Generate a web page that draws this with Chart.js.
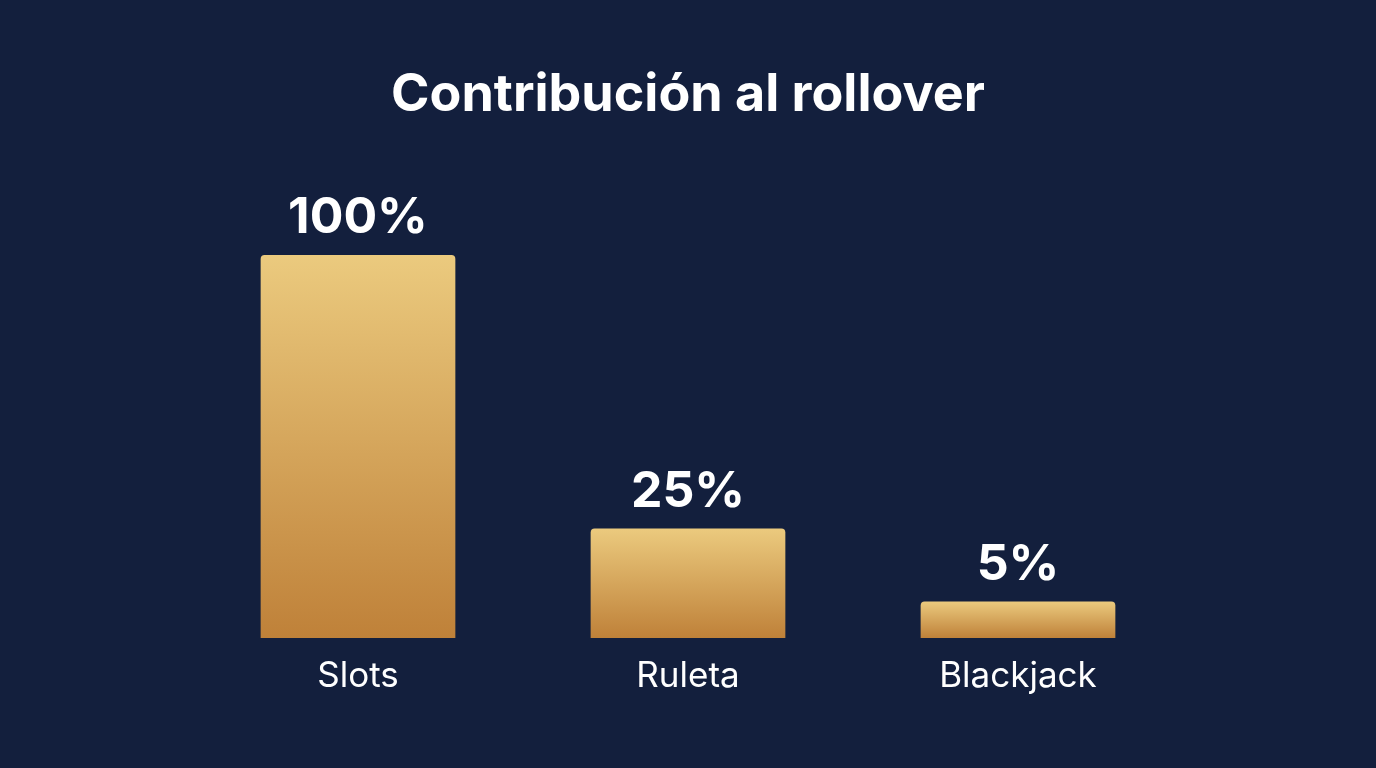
<!DOCTYPE html>
<html><head><meta charset="utf-8">
<script src="https://cdn.jsdelivr.net/npm/chart.js@4"></script>
<style>html,body{margin:0;background:#131f3d;}#wrap{width:1376px;height:768px;}</style>
</head><body><div id="wrap"><canvas id="c"></canvas></div>
<script>
const categories = ['Slots', 'Ruleta', 'Blackjack'];
const values = [100, 25, 5];
const valueLabels = ['100%', '25%', '5%'];
const title = 'Contribución al rollover';

const labelsPlugin = {
  id: 'labels',
  afterDatasetsDraw(chart) {
    const ctx = chart.ctx;
    const meta = chart.getDatasetMeta(0);
    ctx.save();
    ctx.fillStyle = '#ffffff';
    ctx.textAlign = 'center';
    ctx.textBaseline = 'middle';
    ctx.font = 'bold 52px Inter, "Open Sans", sans-serif';
    ctx.fillText(title, 688, 95);
    meta.data.forEach((bar, i) => {
      ctx.font = 'bold 50px Inter, "Open Sans", sans-serif';
      ctx.fillText(valueLabels[i], bar.x, bar.y - 37);
      ctx.font = '35px Inter, "Open Sans", sans-serif';
      ctx.fillText(categories[i], bar.x, chart.chartArea.bottom + 38);
    });
    ctx.restore();
  }
};

new Chart(document.getElementById('c'), {
  type: 'bar',
  data: {
    labels: categories,
    datasets: [{
      data: values,
      base: -5,
      backgroundColor: (c) => {
        const a = c.chart.chartArea;
        if (!a) return '#d9a85a';
        const top = c.chart.scales.y.getPixelForValue(values[c.dataIndex]);
        const g = c.chart.ctx.createLinearGradient(0, top, 0, a.bottom);
        g.addColorStop(0, '#ebca7e');
        g.addColorStop(1, '#bf8139');
        return g;
      },
      borderRadius: { topLeft: 4, topRight: 4 },
      borderSkipped: 'bottom',
      categoryPercentage: 0.59,
      barPercentage: 1
    }]
  },
  options: {
    responsive: true,
    maintainAspectRatio: false,
    animation: false,
    layout: { padding: { left: 193, right: 193, top: 255, bottom: 130 } },
    plugins: { legend: { display: false }, tooltip: { enabled: false } },
    scales: {
      x: { display: false },
      y: { display: false, min: -5, max: 100 }
    }
  },
  plugins: [labelsPlugin]
});
</script></body></html>
